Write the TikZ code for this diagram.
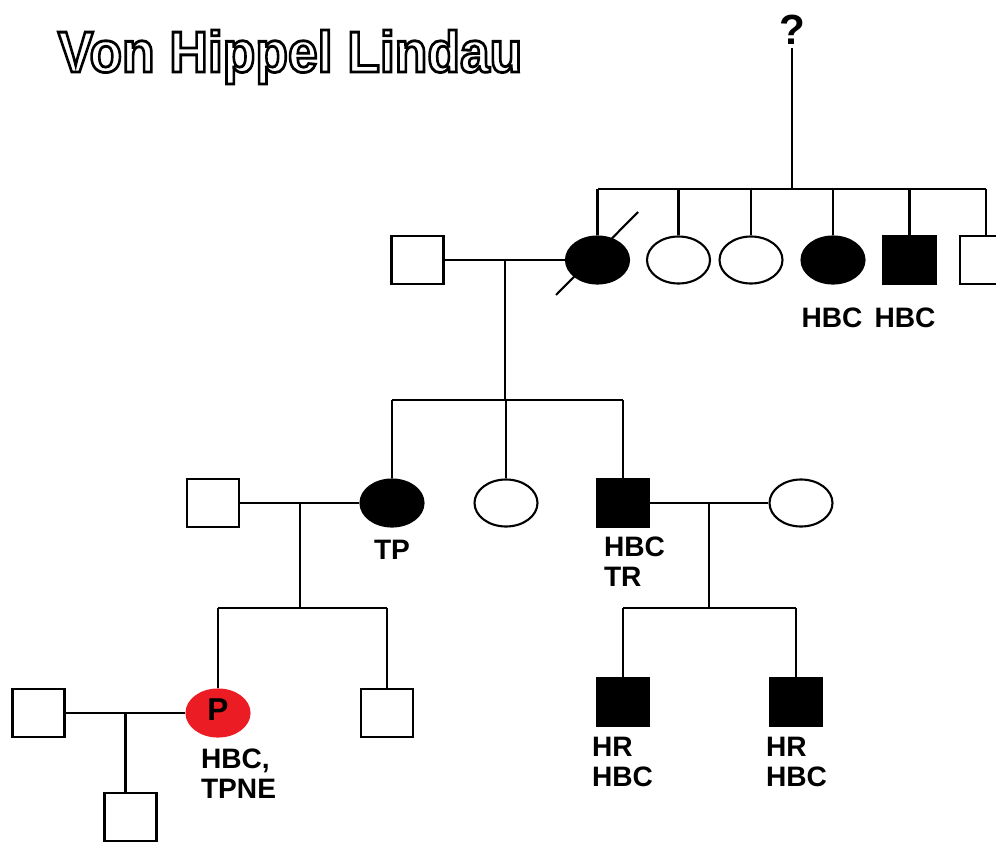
\documentclass[tikz,border=0pt]{standalone}
\usepackage{fontspec}
\setmainfont{Liberation Sans}
\usetikzlibrary{shapes.geometric, calc}
\definecolor{probandred}{RGB}{236,28,36}
\newcommand{\hollowtext}[1]{\special{pdf:literal direct 2 Tr 1.6 w 1 g 0 G}#1\special{pdf:literal direct 0 Tr 0 g}}

\begin{document}
\begin{tikzpicture}[
        line width=1.2pt,
        male/.style={draw, minimum width=1.04cm, minimum height=0.96cm, inner sep=0},
        female/.style={draw, ellipse, minimum width=1.26cm, minimum height=0.94cm, inner sep=0},
        hit/.style={fill=black},
        note/.style={font=\bfseries\fontsize{16}{17}\selectfont, align=left, inner sep=0},
    ]
    \useasboundingbox (0,0) rectangle (19.92,-16.86);

    \node[anchor=base, xscale=0.92, font=\bfseries\fontsize{33}{33}\selectfont] (title) at (5.8,-1.44)
        {\hollowtext{Von Hippel Lindau}};
    \node[anchor=base, inner sep=1pt, font=\bfseries\fontsize{24}{24}\selectfont] (q) at (15.84,-0.9) {?};

    % generation II
    \node[male]        (gm)  at (8.35,-5.2)  {};
    \node[female, hit] (gmw) at (11.95,-5.2) {};
    \node[female]      (o2)  at (13.57,-5.2) {};
    \node[female]      (o3)  at (15.02,-5.2) {};
    \node[female, hit] (o4)  at (16.66,-5.2) {};
    \node[male, hit]   (s5)  at (18.19,-5.2) {};
    \node[male]        (s6)  at (19.72,-5.2) {};
    \node[note]        at (16.64,-6.36) {HBC};
    \node[note]        at (18.10,-6.36) {HBC};

    % generation III
    \node[male]        (sp1) at (4.26,-10.06)  {};
    \node[female, hit] (c1)  at (7.84,-10.06)  {};
    \node[female]      (c2)  at (10.12,-10.06) {};
    \node[male, hit]   (c3)  at (12.46,-10.06) {};
    \node[female]      (sp2) at (16.02,-10.06) {};
    \node[note]        at (7.84,-11.0) {TP};
    \node[note, anchor=north west] at (12.06,-10.72) {HBC\\TR};

    % generation IV
    \node[male]        (sp3) at (0.77,-14.26)  {};
    \node[female, fill=probandred, draw=probandred, font=\bfseries\fontsize{18}{18}\selectfont] (pro) at (4.36,-14.26)
        {\raisebox{4pt}{P}};
    \node[male]        (b1)  at (7.74,-14.26)  {};
    \node[male, hit]   (gc1) at (12.46,-14.04) {};
    \node[male, hit]   (gc2) at (15.92,-14.04) {};
    \node[note, anchor=north west] at (4.0,-14.96)   {HBC,\\TPNE};
    \node[note, anchor=north west] at (11.82,-14.72) {HR\\HBC};
    \node[note, anchor=north west] at (15.30,-14.72) {HR\\HBC};

    % generation V
    \node[male]        (v1)  at (2.61,-16.34) {};

    % connectors
    \coordinate (topbar) at (15.84,-3.78);
    \draw (q.south) -- (topbar);
    \draw (gmw.north |- topbar) -- (s6.north |- topbar);
    \foreach \n in {gmw, o2, o3, o4, s5, s6}
        \draw (\n.north |- topbar) -- (\n.north);
    \draw ($(gmw.center)+(-0.83,-0.7)$) -- ($(gmw.center)+(0.81,0.96)$);

    \draw (gm) -- (gmw);
    \coordinate (m1) at ($(gm.east)!0.5!(gmw.west)$);
    \coordinate (bar2) at (0,-8.0);
    \draw (m1) -- (m1 |- bar2);
    \draw (c1.north |- bar2) -- (c3.north |- bar2);
    \foreach \n in {c1, c2, c3}
        \draw (\n.north |- bar2) -- (\n.north);

    \draw (sp1) -- (c1);
    \draw (c3) -- (sp2);
    \coordinate (m2) at ($(sp1.east)!0.5!(c1.west)$);
    \coordinate (m3) at ($(c3.east)!0.5!(sp2.west)$);
    \coordinate (bar3) at (0,-12.16);
    \draw (m2) -- (m2 |- bar3);
    \draw (m3) -- (m3 |- bar3);
    \draw (pro.north |- bar3) -- (b1.north |- bar3);
    \draw (gc1.north |- bar3) -- (gc2.north |- bar3);
    \foreach \n in {pro, b1, gc1, gc2}
        \draw (\n.north |- bar3) -- (\n.north);

    \draw (sp3) -- (pro);
    \coordinate (m4) at ($(sp3.east)!0.5!(pro.west)$);
    \draw (m4) -- (m4 |- v1.north);
\end{tikzpicture}
\end{document}
